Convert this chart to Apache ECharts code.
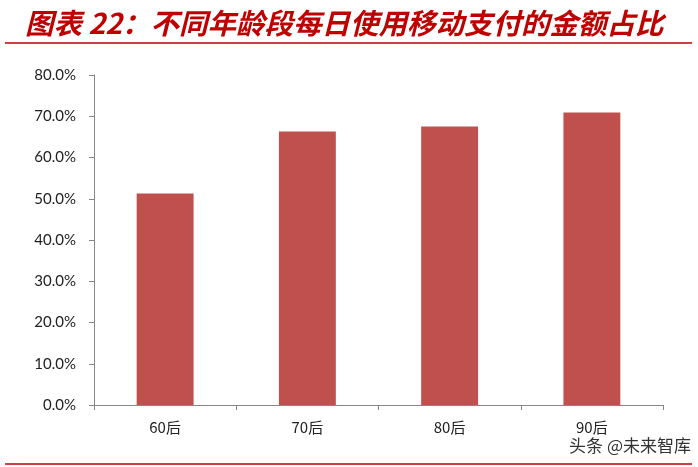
<!DOCTYPE html>
<html>
<head>
<meta charset="utf-8">
<script src="https://cdn.jsdelivr.net/npm/echarts@6/dist/echarts.min.js"></script>
<style>html,body{margin:0;padding:0;background:#fff}#c{width:698px;height:467px}</style>
</head>
<body>
<div id="c"></div>
<script>
const titleText = '图表 22：不同年龄段每日使用移动支付的金额占比';
const categories = ['60后', '70后', '80后', '90后'];
const values = [51.3, 66.3, 67.5, 70.9];
const watermark = '头条 @未来智库';

const chart = echarts.init(document.getElementById('c'), null, {renderer: 'canvas'});
chart.setOption({
  backgroundColor: '#fff',
  animation: false,
  title: {
    text: titleText,
    left: 20, top: 4,
    textStyle: {
      color: '#C00000', fontSize: 28.5, fontStyle: 'italic', fontWeight: 'bold',
      fontFamily: '"Noto Sans CJK SC", sans-serif'
    }
  },
  graphic: [
    {type: 'line', shape: {x1: 5, y1: 43, x2: 692, y2: 43}, style: {stroke: '#C00000', lineWidth: 1.5}},
    {type: 'line', shape: {x1: 5, y1: 464, x2: 692, y2: 464}, style: {stroke: '#C00000', lineWidth: 1.5}},
    {type: 'text', right: 7, top: 437, style: {text: watermark, fill: '#333', fontSize: 17, fontFamily: '"Noto Sans CJK SC", sans-serif'}}
  ],
  grid: {left: 94, right: 35, top: 75, bottom: 62},
  xAxis: {
    type: 'category',
    data: categories,
    axisLine: {lineStyle: {color: '#868686', width: 1}},
    axisTick: {show: true, length: 5, lineStyle: {color: '#868686'}},
    axisLabel: {color: '#222', fontSize: 15, margin: 15, fontFamily: '"Noto Sans CJK SC", sans-serif'}
  },
  yAxis: {
    type: 'value',
    min: 0, max: 80, interval: 10,
    axisLine: {show: true, lineStyle: {color: '#868686', width: 1}},
    axisTick: {show: true, length: 5, lineStyle: {color: '#868686'}},
    splitLine: {show: false},
    axisLabel: {
      color: '#222', fontSize: 15, margin: 18, fontFamily: 'Lato, sans-serif',
      formatter: v => v.toFixed(1) + '%'
    }
  },
  series: [{
    type: 'bar',
    data: values,
    barWidth: '40%',
    itemStyle: {color: '#C0504D'}
  }]
});
</script>
</body>
</html>
